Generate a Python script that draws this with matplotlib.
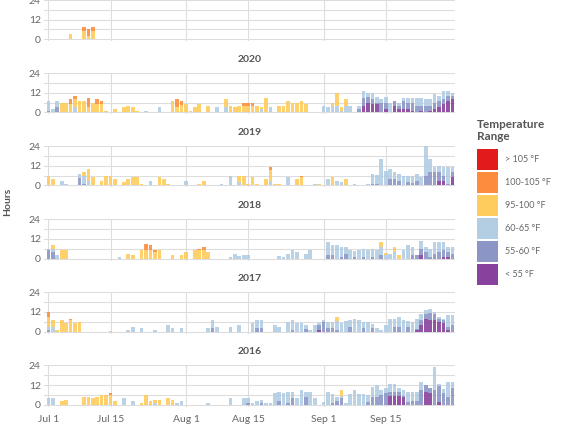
import numpy as np
import matplotlib
matplotlib.use("Agg")
import matplotlib.pyplot as plt
from matplotlib.patches import Rectangle

plt.rcParams["font.family"] = ["Lato", "DejaVu Sans"]

# day index counted from Jul 1 (0) to Sep 30 (91)
n_days = 92
years = ["2021", "2020", "2019", "2018", "2017", "2016"]
range_labels = ["> 105 °F", "100-105 °F", "95-100 °F", "60-65 °F", "55-60 °F", "< 55 °F"]
range_colors = ["#e31a1c", "#fd8d3c", "#fecc5c", "#b3cde3", "#8c96c6", "#88419d"]
tick_days = [0, 14, 31, 45, 62, 76]
tick_labels = ["Jul 1", "Jul 15", "Aug 1", "Aug 15", "Sep 1", "Sep 15"]

# (day, hours) pairs for every year and range
h2021_95 = [(5, 3.3), (8, 5.3), (9, 2), (10, 5.3)]
h2021_100 = [(8, 2), (9, 4), (10, 2)]

h2020_lt55 = [(71, 4), (72, 6), (73, 5), (74, 5), (75, 0.5), (76, 2), (77, 0.5), (78, 4), (79, 2),
              (80, 2), (81, 2), (82, 1), (84, 1), (86, 1), (87, 2), (88, 3), (89, 5), (90, 7), (91, 8)]
h2020_55 = [(0, 1), (2, 3), (70, 2), (71, 5), (72, 3.5), (73, 3), (74, 1), (75, 5), (76, 4), (78, 3),
            (79, 2), (80, 5), (81, 4), (82, 5), (83, 4), (84, 3), (85, 4), (86, 3), (87, 4), (88, 4),
            (89, 3), (90, 3), (91, 2)]
h2020_60 = [(0, 6), (1, 2), (2, 4), (6, 3), (22, 1), (25, 3), (38, 3), (40, 3), (48, 2), (50, 3),
            (51, 0.5), (62, 4), (63, 3), (64, 4), (65, 4), (66, 1), (67, 4), (68, 4), (70, 2), (71, 4),
            (72, 2.5), (73, 4), (74, 3.5), (75, 2.5), (76, 3.5), (77, 5.5), (79, 2), (80, 2), (81, 3),
            (82, 3), (83, 5), (84, 5), (85, 4), (86, 4), (87, 5), (88, 3), (89, 5), (90, 3), (91, 2)]
h2020_95 = [(3, 6), (4, 6), (5, 5), (6, 5), (7, 7), (8, 7), (9, 3.5), (10, 6), (11, 5), (12, 5),
            (13, 1), (15, 2), (17, 3), (18, 4), (19, 3), (20, 1), (28, 7), (29, 3), (30, 4.5), (31, 5),
            (32, 1), (33, 3), (34, 5), (36, 4), (40, 5), (41, 4), (42, 3), (43, 4), (44, 4), (45, 4),
            (46, 4), (47, 4), (48, 1), (49, 9), (52, 4), (53, 4), (54, 7), (55, 6), (56, 6), (57, 7),
            (58, 5), (64, 2), (65, 8), (66, 2), (67, 4)]
h2020_100 = [(5, 3), (6, 2), (9, 5.5), (11, 3), (12, 2), (29, 5), (30, 2.5), (44, 2), (45, 2), (46, 2)]

h2019_lt55 = [(82, 0.5), (86, 0.5), (87, 0.5), (88, 3), (89, 3), (91, 5)]
h2019_55 = [(7, 4.5), (8, 1), (73, 1), (74, 1), (77, 4), (78, 4), (79, 3), (80, 0.5), (81, 2), (82, 1),
            (83, 3), (85, 6), (86, 8), (87, 8), (88, 5), (89, 3), (90, 1), (91, 3)]
h2019_60 = [(3, 3), (4, 1), (6, 0.5), (7, 2.5), (8, 5), (9, 3), (23, 3), (31, 3), (39, 1), (41, 6),
            (43, 2), (50, 3), (54, 5), (60, 1), (63, 4), (65, 3), (66, 2), (69, 1), (72, 1), (73, 6),
            (74, 5.5), (75, 16), (76, 9), (77, 6), (78, 4), (79, 4), (80, 5.5), (81, 4), (82, 4.5),
            (83, 4), (84, 5), (85, 18), (86, 7.5), (87, 2.5), (88, 4), (89, 5), (90, 10), (91, 3)]
h2019_95 = [(0, 6), (1, 4), (8, 2), (9, 7), (10, 5), (12, 3), (13, 6), (14, 6), (15, 4), (17, 2),
            (18, 4), (19, 5), (20, 5), (21, 1), (25, 5), (26, 4), (27, 1), (34, 1), (35, 3), (43, 4),
            (44, 6), (45, 1), (46, 5), (47, 1), (49, 4), (50, 6.5), (51, 1), (52, 1), (56, 4), (57, 5),
            (61, 1), (64, 5), (67, 4)]
h2019_100 = [(50, 1.5), (57, 1)]

h2018_lt55 = [(84, 2), (89, 1), (90, 1)]
h2018_55 = [(0, 5.5), (1, 4), (63, 2), (64, 2), (66, 1), (67, 3), (69, 1), (71, 1), (73, 1), (75, 2),
            (82, 2), (83, 2), (84, 4), (85, 4), (86, 1), (87, 3), (88, 4), (89, 4), (90, 3), (91, 3)]
h2018_60 = [(0, 0.5), (1, 2), (2, 2), (16, 1), (41, 1), (42, 3), (43, 1.5), (44, 2), (45, 2),
            (52, 1.5), (53, 1), (54, 3), (55, 5), (56, 4), (58, 3), (59, 5), (63, 8), (64, 6), (65, 8),
            (66, 6), (67, 4), (68, 5.5), (69, 3.5), (70, 5), (71, 5), (72, 5), (73, 5), (74, 5), (75, 5),
            (76, 2), (77, 3), (78, 4), (80, 5), (81, 8), (82, 5), (84, 5), (85, 3), (86, 5), (87, 7),
            (88, 6), (89, 5), (90, 3), (91, 4)]
h2018_95 = [(1, 2), (3, 5), (4, 5), (18, 3), (19, 2), (21, 5), (22, 5), (23, 5), (24, 4), (25, 5),
            (28, 2), (30, 2), (31, 4), (33, 5), (34, 5), (35, 5), (36, 4), (75, 3), (76, 1.5), (78, 3),
            (79, 2)]
h2018_100 = [(22, 4), (23, 3), (24, 1), (34, 1), (35, 2)]

h2017_lt55 = [(61, 1), (83, 1), (84, 4), (85, 8), (86, 7), (87, 7), (88, 6), (89, 5), (90, 1)]
h2017_55 = [(0, 1), (37, 2), (47, 2.5), (48, 2.5), (55, 1), (58, 1.5), (61, 3), (62, 6), (63, 2),
            (64, 2), (65, 1), (68, 3), (71, 2), (73, 2), (78, 3), (79, 3), (81, 3), (83, 0.5), (84, 3),
            (85, 3), (86, 4.5), (87, 4), (88, 2), (89, 2), (90, 2), (91, 4)]
h2017_60 = [(0, 2), (1, 3), (14, 0.5), (18, 1), (19, 3), (21, 2), (24, 1), (27, 4), (28, 2), (30, 2),
            (36, 2), (37, 5), (38, 3), (41, 3), (43, 4), (46, 5), (47, 4.5), (48, 4.5), (51, 4),
            (52, 3), (54, 6), (55, 6), (56, 5), (57, 5), (58, 2.5), (59, 1), (60, 4), (61, 1), (62, 1),
            (63, 4), (64, 4), (65, 5.5), (66, 5), (67, 6.5), (68, 4), (69, 8), (70, 7), (71, 4),
            (72, 6), (73, 2.5), (74, 2), (75, 1), (76, 4), (77, 8), (78, 5), (79, 6), (80, 7),
            (81, 3.5), (82, 6), (83, 6.5), (84, 4), (85, 2), (86, 2.5), (87, 1), (88, 1), (89, 1),
            (90, 7), (91, 6)]
h2017_95 = [(0, 6), (1, 4), (2, 1), (3, 7), (4, 5), (5, 7), (6, 5), (7, 6), (65, 2.5)]
h2017_100 = [(0, 3), (5, 1)]

h2016_lt55 = [(77, 5.5), (78, 5.5), (79, 5.5), (80, 4.5), (85, 8), (86, 7), (88, 1.5)]
h2016_55 = [(45, 1), (48, 1), (52, 2.5), (54, 1), (55, 4), (58, 5), (64, 1), (65, 2), (66, 4),
            (72, 1.5), (73, 5), (74, 5), (75, 6), (76, 7), (77, 2), (78, 2.5), (79, 2), (80, 1),
            (81, 1.5), (82, 2.5), (83, 2.5), (84, 9), (85, 4), (86, 3.4), (87, 9), (88, 10), (89, 7),
            (90, 5), (91, 10)]
h2016_60 = [(0, 4), (1, 4), (17, 4), (19, 2), (24, 1), (29, 1), (30, 2), (36, 1), (41, 4), (44, 4),
            (45, 3), (46, 1), (47, 2), (48, 2), (49, 1), (50, 1), (51, 7), (52, 5.5), (53, 7), (54, 7),
            (55, 4), (56, 4), (57, 9), (58, 3), (59, 8), (60, 4), (62, 1.5), (63, 7.7), (64, 5.7),
            (65, 2.7), (66, 1.5), (67, 1), (68, 6.7), (69, 8.7), (70, 6.7), (71, 6.7), (72, 4.2),
            (73, 5.8), (74, 6.8), (75, 2.7), (76, 3.4), (77, 5.3), (78, 4.8), (79, 2.9), (80, 3.2),
            (81, 6.2), (82, 5.2), (83, 5.2), (84, 4.8), (87, 14), (88, 1.3), (89, 2.8), (90, 8.8),
            (91, 3.8)]
h2016_95 = [(3, 2), (4, 3), (8, 5), (9, 5), (10, 4), (11, 5), (12, 6), (13, 6), (14, 6), (15, 2),
            (21, 1), (22, 6), (23, 2), (24, 2), (25, 3), (27, 4), (28, 3), (66, 3.5)]
h2016_100 = [(14, 1)]

# bottom -> top stacking: <55, 55-60, 60-65, 95-100, 100-105, >105
year_series = {
    "2021": [[], [], [], h2021_95, h2021_100, []],
    "2020": [h2020_lt55, h2020_55, h2020_60, h2020_95, h2020_100, []],
    "2019": [h2019_lt55, h2019_55, h2019_60, h2019_95, h2019_100, []],
    "2018": [h2018_lt55, h2018_55, h2018_60, h2018_95, h2018_100, []],
    "2017": [h2017_lt55, h2017_55, h2017_60, h2017_95, h2017_100, []],
    "2016": [h2016_lt55, h2016_55, h2016_60, h2016_95, h2016_100, []],
}
stack_colors = range_colors[::-1]


def dense(pairs):
    arr = np.zeros(n_days)
    for d, h in pairs:
        arr[d] = h
    return arr


W, H = 568, 426
fig = plt.figure(figsize=(W / 100, H / 100), dpi=100)

text_gray = "#666666"
title_gray = "#555555"
grid_col = "#dddddd"
ymin, ymax = -1.2, 24
px_per_h = 39.3 / 24
left_px, right_px = 43.5, 455

days = np.arange(n_days)
for k, yr in enumerate(years):
    zero_px = 39.3 + 73.08 * k
    bottom_px = zero_px - ymin * px_per_h
    height_px = (ymax - ymin) * px_per_h
    ax = fig.add_axes([left_px / W, 1 - bottom_px / H, (right_px - left_px) / W, height_px / H])

    base = np.zeros(n_days)
    for pairs, col in zip(year_series[yr], stack_colors):
        vals = dense(pairs)
        ax.bar(days, vals, bottom=base, width=0.82, color=col, alpha=0.9, linewidth=0, zorder=3)
        base = base + vals

    ax.set_xlim(-1.1, 91.6)
    ax.set_ylim(ymin, ymax)
    ax.set_yticks([0, 12, 24])
    ax.set_yticks([6, 18], minor=True)
    ax.set_xticks(tick_days)
    if k == len(years) - 1:
        ax.set_xticklabels(tick_labels)
    else:
        ax.set_xticklabels([])
    ax.grid(True, which="both", axis="y", color=grid_col, linewidth=0.8, zorder=0)
    ax.grid(True, axis="x", color=grid_col, linewidth=0.8, zorder=0)
    for s in ax.spines.values():
        s.set_visible(False)
    ax.tick_params(axis="both", which="both", length=0, labelsize=7.5, colors=text_gray)
    ax.tick_params(axis="y", pad=2)
    ax.tick_params(axis="x", pad=6)
    # the top panel is cropped, its title lies outside the picture
    if k > 0:
        ax.text(0.5, 1 + 14 / height_px, yr, transform=ax.transAxes, ha="center", va="center",
                fontsize=7.5, fontweight="bold", color=title_gray)

fig.text(8 / W, 1 - 202 / H, "Hours", rotation=90, ha="center", va="center",
         fontsize=7.5, fontweight="bold", color=title_gray)

# legend drawn by hand: square swatches with labels
fig.text(477 / W, 1 - 119 / H, "Temperature\nRange", ha="left", va="top", fontsize=8.5,
         fontweight="bold", color=title_gray, linespacing=1.15)
for i, (lab, col) in enumerate(zip(range_labels, range_colors)):
    top = 149 + 23 * i
    fig.add_artist(Rectangle((477 / W, 1 - (top + 21) / H), 21 / W, 21 / H,
                             transform=fig.transFigure, facecolor=col, edgecolor="none"))
    fig.text(505 / W, 1 - (top + 10.5) / H, lab, ha="left", va="center", fontsize=6.5,
             color=text_gray)

fig.savefig("out.png", dpi=100)
